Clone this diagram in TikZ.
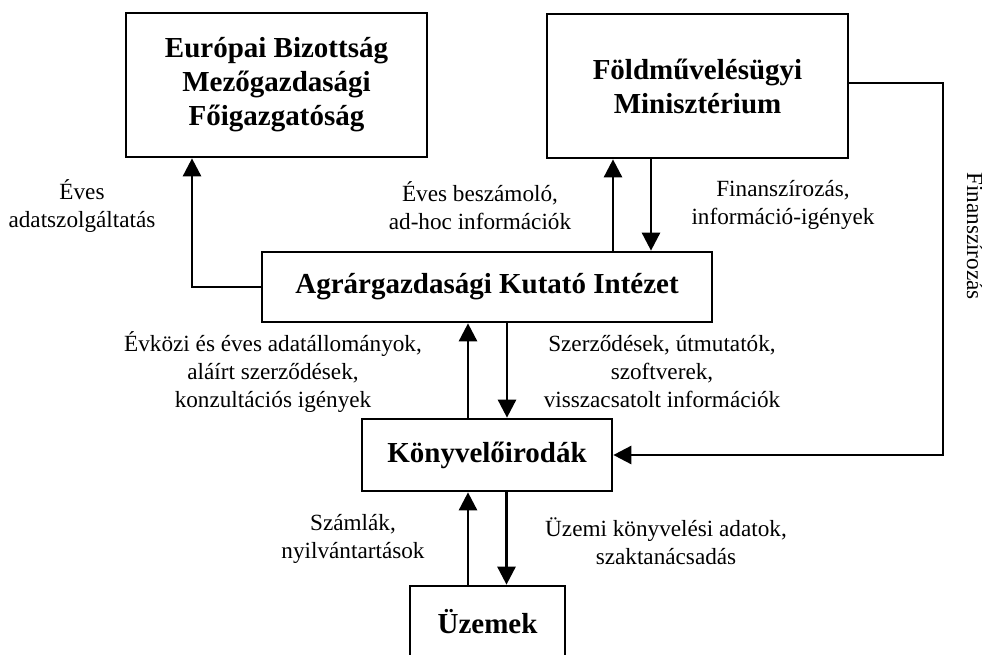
\documentclass[tikz,border=0pt]{standalone}
\usepackage{fontspec}
\setmainfont{Liberation Serif}
\usetikzlibrary{arrows.meta}
\tikzset{
  box/.style={draw, line width=2.7pt, inner sep=0pt, align=center,
    font=\fontsize{29}{34}\selectfont\bfseries},
  lbl/.style={align=center, inner sep=0pt, font=\fontsize{23.2}{28}\selectfont},
  arr/.style={line width=2.7pt, -{Triangle[length=18pt,width=18pt]}},
  ln/.style={line width=2.7pt}
}
\begin{document}
\begin{tikzpicture}[x=1pt,y=-1pt]
\useasboundingbox (0,0) rectangle (982,655);
% boxes
\node[box, minimum width=301pt, minimum height=144pt] (EB) at (276.5,85)
  {Európai Bizottság\\Mezőgazdasági\\Főigazgatóság};
\node[box, minimum width=301pt, minimum height=144pt] (FM) at (697.5,86)
  {Földművelésügyi\\Minisztérium};
\node[box, minimum width=450pt, minimum height=70pt] (AKI) at (487,287)
  {Agrárgazdasági Kutató Intézet};
\node[box, minimum width=250pt, minimum height=72pt] (KO) at (487,455)
  {Könyvelőirodák};
\node[box, minimum width=155pt, minimum height=72pt] (UZ) at (487.5,622)
  {Üzemek};
% connectors
\draw[arr] (AKI.west) -| ([xshift=-84.5pt]EB.south);
\draw[arr] ([xshift=126pt]AKI.north) -- ([xshift=126pt]AKI.north |- FM.south);
\draw[arr] ([xshift=-46.5pt]FM.south) -- ([xshift=-46.5pt]FM.south |- AKI.north);
\draw[arr] ([xshift=-19pt]KO.north) -- ([xshift=-19pt]KO.north |- AKI.south);
\draw[arr] ([xshift=20pt]AKI.south) -- ([xshift=20pt]AKI.south |- KO.north);
\draw[arr] ([xshift=-19.5pt]UZ.north) -- ([xshift=-19.5pt]UZ.north |- KO.south);
\draw[arr] ([xshift=19.5pt]KO.south) -- ([xshift=19.5pt]KO.south |- UZ.north);
\coordinate (fr) at (943,0);
\draw[arr] ([yshift=3pt]FM.east) -| (fr |- KO.east) -- (KO.east);
% labels
\node[lbl] (l1) at (82,206) {Éves\\adatszolgáltatás};
\node[lbl] (l2) at (480,206) {Éves beszámoló,\\ad-hoc információk};
\node[lbl] (l3) at (783,205) {Finanszírozás,\\információ-igények};
\node[lbl] (l4) at (273,372) {Évközi és éves adatállományok,\\aláírt szerződések,\\konzultációs igények};
\node[lbl] (l5) at (662,372) {Szerződések, útmutatók,\\szoftverek,\\visszacsatolt információk};
\node[lbl] (l6) at (353,539) {Számlák,\\nyilvántartások};
\node[lbl] (l7) at (666,541) {Üzemi könyvelési adatok,\\szaktanácsadás};
\node[lbl, rotate=-90, anchor=base] (l8) at (967,236) {Finanszírozás};
\end{tikzpicture}
\end{document}
